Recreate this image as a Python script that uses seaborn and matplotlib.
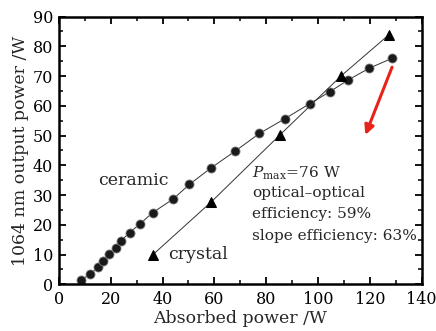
import matplotlib
matplotlib.use("Agg")
import matplotlib.pyplot as plt
import seaborn as sns
import pandas as pd
from matplotlib.ticker import MultipleLocator

# Data
ceramic_x = [8.7, 12.2, 15.0, 17.0, 19.5, 21.9, 24.1, 27.3, 31.3, 36.2, 44.0, 50.4,
             58.7, 68.1, 77.4, 87.3, 96.8, 104.7, 111.7, 119.7, 128.7]
ceramic_y = [1.5, 3.5, 5.8, 7.9, 10.1, 12.3, 14.7, 17.4, 20.3, 24.1, 28.6, 33.6,
             39.1, 44.8, 50.7, 55.7, 60.7, 64.8, 68.7, 72.6, 76.0]
crystal_x = [36.2, 58.7, 85.3, 109.0, 127.4]
crystal_y = [9.9, 27.6, 50.2, 70.1, 83.9]

x_label = "Absorbed power /W"
y_label = "1064 nm output power /W"
note_lines = [r"$P_{\mathrm{max}}$=76 W", "optical\u2013optical",
              "efficiency: 59%", "slope efficiency: 63%"]

sns.set_theme(style="ticks")
plt.rcParams["font.family"] = ["DejaVu Serif"]
plt.rcParams["mathtext.fontset"] = "dejavuserif"

df_c = pd.DataFrame({"x": ceramic_x, "y": ceramic_y})
df_k = pd.DataFrame({"x": crystal_x, "y": crystal_y})

fig = plt.figure(figsize=(4.36, 3.31), dpi=100)
ax = fig.add_axes([0.135, 0.141, 0.832, 0.809])

sns.lineplot(data=df_c, x="x", y="y", ax=ax, color="#333333", linewidth=0.7,
             marker="o", markersize=6.5, markerfacecolor="#1a1a1a",
             markeredgecolor="#777777", markeredgewidth=0.6, sort=False)
sns.lineplot(data=df_k, x="x", y="y", ax=ax, color="#333333", linewidth=0.7,
             marker="^", markersize=7, markerfacecolor="black",
             markeredgecolor="black", sort=False)

ax.set_xlim(0, 140)
ax.set_ylim(0, 90)
ax.xaxis.set_major_locator(MultipleLocator(20))
ax.xaxis.set_minor_locator(MultipleLocator(10))
ax.yaxis.set_major_locator(MultipleLocator(10))
ax.yaxis.set_minor_locator(MultipleLocator(5))
ax.tick_params(which="both", direction="in", top=True, right=True,
               labelsize=11.5, colors="black")
ax.tick_params(axis="x", which="both", pad=5)
ax.tick_params(axis="y", which="both", pad=4)
ax.tick_params(which="major", length=5, width=1.3)
ax.tick_params(which="minor", length=3, width=1.1)
for s in ax.spines.values():
    s.set_linewidth(1.8)
    s.set_color("black")

ax.set_xlabel(x_label, fontsize=12.5, labelpad=1)
ax.set_ylabel(y_label, fontsize=12.5, labelpad=3)

ax.text(15, 33.4, "ceramic", fontsize=12.5, va="baseline")
ax.text(42, 8.6, "crystal", fontsize=12.5, va="baseline")

ys = [36.0, 29.2, 22.2, 14.8]
for t, yy in zip(note_lines, ys):
    ax.text(74.5, yy, t, fontsize=11.1, va="baseline")

ax.annotate("", xy=(118.3, 50.2), xytext=(128.6, 73.0),
            arrowprops=dict(arrowstyle="-|>", color="#e8231a", lw=2.2,
                            mutation_scale=14, shrinkA=0, shrinkB=0))

fig.savefig("out.png", dpi=100)
